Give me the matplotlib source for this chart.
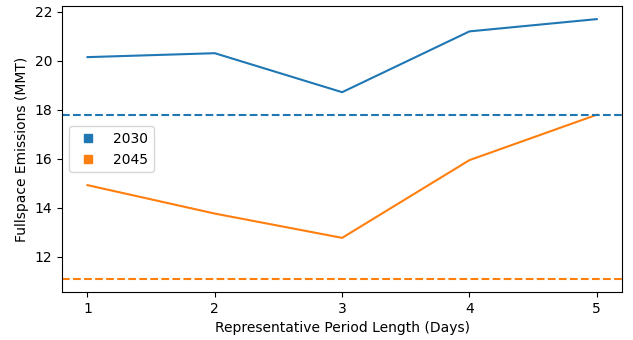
import matplotlib.pyplot as plt
from matplotlib.lines import Line2D

days = [1, 2, 3, 4, 5]
emis_2030 = [20.15, 20.31, 18.72, 21.2, 21.7]
emis_2045 = [14.93, 13.77, 12.78, 15.95, 17.8]
ref_2030 = 17.8
ref_2045 = 11.1

fig, ax = plt.subplots(figsize=(6.33, 3.4), dpi=100)
fig.subplots_adjust(left=0.098, right=0.983, top=0.982, bottom=0.141)

ax.plot(days, emis_2030, color="C0")
ax.plot(days, emis_2045, color="C1")
ax.axhline(ref_2030, color="C0", linestyle="--")
ax.axhline(ref_2045, color="C1", linestyle="--")

ax.set_xticks(days)
ax.set_xlabel("Representative Period Length (Days)")
ax.set_ylabel("Fullspace Emissions (MMT)")

handles = [Line2D([], [], color="C0", marker="s", linestyle="None"),
           Line2D([], [], color="C1", marker="s", linestyle="None")]
ax.legend(handles, ["2030", "2045"], loc="center left")

fig.savefig("out.png")
